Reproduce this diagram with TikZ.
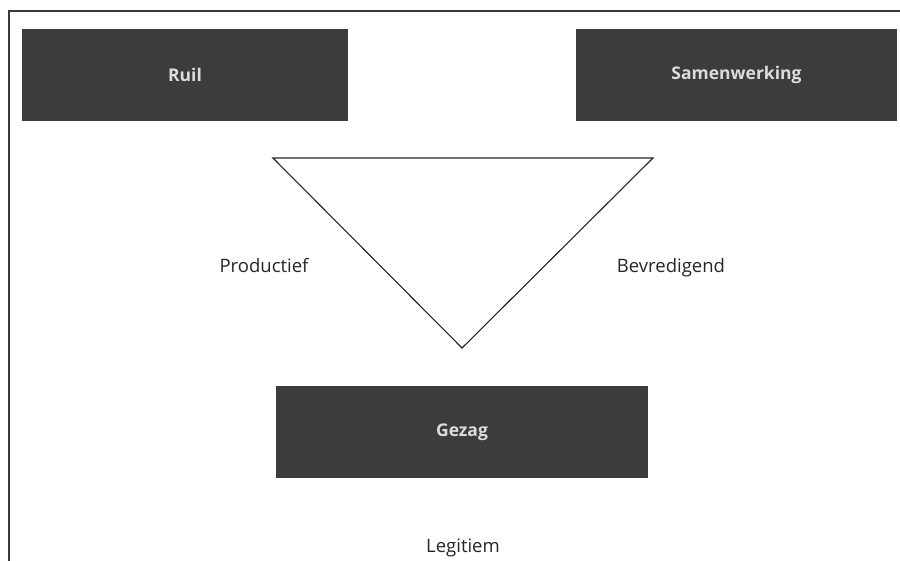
\documentclass[tikz,border=0pt]{standalone}
\usepackage{fontspec}
\setmainfont{Open Sans}
\begin{document}
\begin{tikzpicture}[x=1pt,y=-1pt,
  darkbox/.style={draw=none,fill=boxgray,minimum width=#1,minimum height=92pt,inner sep=0pt,
     text=boxtext,font=\fontsize{17.5}{20}\selectfont\bfseries},
  lbl/.style={inner sep=0pt,anchor=base,text=black!85,font=\fontsize{18.5}{22}\selectfont}]
\definecolor{boxgray}{HTML}{3C3C3C}
\definecolor{boxtext}{HTML}{DCDCDC}
\definecolor{framegray}{HTML}{3A3A3A}
\useasboundingbox (0,0) rectangle (900,560);
\fill[white] (0,0) rectangle (900,560);
% frame
\draw[framegray,line width=1.6pt] (9,562) -- (9,11) -- (902,11);
% boxes
\node[darkbox=326pt] (ruil) at (185,74.5) {Ruil};
\node[darkbox=321pt] (samen) at (736.5,74.5) {Samenwerking};
\node[darkbox=372pt] (gezag) at (462,432) {Gezag};
% triangle
\coordinate (tl) at (273,158);
\coordinate (tr) at (653,158);
\coordinate (bt) at (462,348);
\draw[black!85,line width=1.1pt,line join=miter] (tl) -- (tr) -- (bt) -- cycle;
% labels
\node[lbl] (prod) at (264,272.5) {Productief};
\node[lbl] (bevr) at (671,272.5) {Bevredigend};
\node[lbl] (legit) at (463,552) {Legitiem};
\end{tikzpicture}
\end{document}
